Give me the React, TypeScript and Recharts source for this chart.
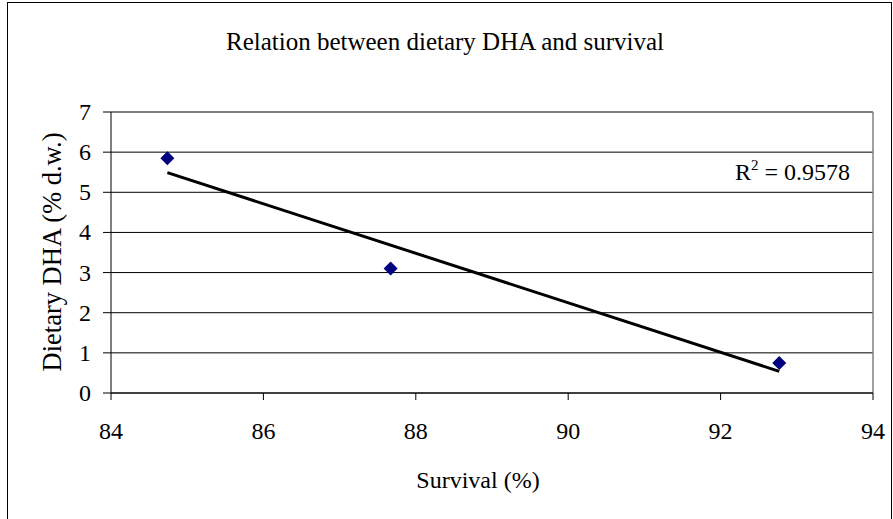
import React from 'react'
import {
  ScatterChart,
  Scatter,
  XAxis,
  YAxis,
  CartesianGrid,
  ReferenceLine
} from 'recharts'

// survival (%) vs dietary DHA (% d.w.)
const survival = [84.74, 87.67, 92.77]
const dha = [5.85, 3.1, 0.75]

// linear trend line end points
const trendX = [84.74, 92.77]
const trendY = [5.49, 0.54]

const xTicks = [84, 86, 88, 90, 92, 94]
const yTicks = [0, 1, 2, 3, 4, 5, 6, 7]

const rSquared = '0.9578'

const points = survival.map((x, i) => ({ x, y: dha[i] }))
const trend = trendX.map((x, i) => ({ x, y: trendY[i] }))

const font = '"Liberation Serif", "Times New Roman", serif'
const textStyle = { fontFamily: font, fontSize: 24 }

const Diamond = (props: any) => {
  const { cx, cy } = props
  const r = 7
  return (
    <path
      d={`M${cx},${cy - r} L${cx + r},${cy} L${cx},${cy + r} L${cx - r},${cy} Z`}
      fill="#000080"
    />
  )
}

const NoDot = () => <g />

const renderXTick = (props: any) => {
  const { x, y, payload } = props
  return (
    <text x={x} y={y + 17} textAnchor="middle" style={textStyle} fill="#000">
      {payload.value}
    </text>
  )
}

const renderYTick = (props: any) => {
  const { x, y, payload } = props
  return (
    <text x={x} y={y + 8} textAnchor="end" style={textStyle} fill="#000">
      {payload.value}
    </text>
  )
}

export default function App() {
  return (
    <div
      style={{
        position: 'absolute',
        left: 0,
        top: 0,
        width: 893,
        height: 519,
        background: '#fff'
      }}
    >
      <ScatterChart
        width={893}
        height={519}
        margin={{ top: 112, right: 20, bottom: 0, left: 0 }}
      >
        <CartesianGrid vertical={false} stroke="#000" strokeOpacity={1} />
        <XAxis
          type="number"
          dataKey="x"
          domain={[84, 94]}
          ticks={xTicks}
          height={126}
          stroke="#000"
          tickSize={7}
          tickMargin={22}
          tick={renderXTick}
          allowDataOverflow
        />
        <YAxis
          type="number"
          dataKey="y"
          domain={[0, 7]}
          ticks={yTicks}
          width={111}
          stroke="#000"
          tickSize={8}
          tickMargin={12}
          tick={renderYTick}
          allowDataOverflow
        />
        <ReferenceLine y={7} stroke="#808080" strokeWidth={1.5} />
        <ReferenceLine x={94} stroke="#808080" strokeWidth={1.5} />
        <Scatter
          data={trend}
          line={{ stroke: '#000', strokeWidth: 3 }}
          shape={NoDot}
          isAnimationActive={false}
        />
        <Scatter data={points} shape={Diamond} isAnimationActive={false} />
      </ScatterChart>
      <svg
        width={893}
        height={519}
        style={{ position: 'absolute', left: 0, top: 0, pointerEvents: 'none' }}
      >
        <rect x={7.5} y={2.5} width={884} height={530} fill="none" stroke="#000" strokeWidth={1} />
        <text x={445} y={50} textAnchor="middle" fontSize={25} fontFamily={font} fill="#000">
          Relation between dietary DHA and survival
        </text>
        <text
          x={0}
          y={0}
          transform="translate(61 252) rotate(-90)"
          textAnchor="middle"
          fontSize={26.5}
          fontFamily={font}
          fill="#000"
        >
          Dietary DHA (% d.w.)
        </text>
        <text x={478} y={488} textAnchor="middle" fontSize={24} fontFamily={font} fill="#000">
          Survival (%)
        </text>
        <text x={850} y={180} textAnchor="end" fontSize={24} fontFamily={font} fill="#000">
          R<tspan dy={-10} fontSize={15}>2</tspan>
          <tspan dy={10}> = {rSquared}</tspan>
        </text>
      </svg>
    </div>
  )
}
